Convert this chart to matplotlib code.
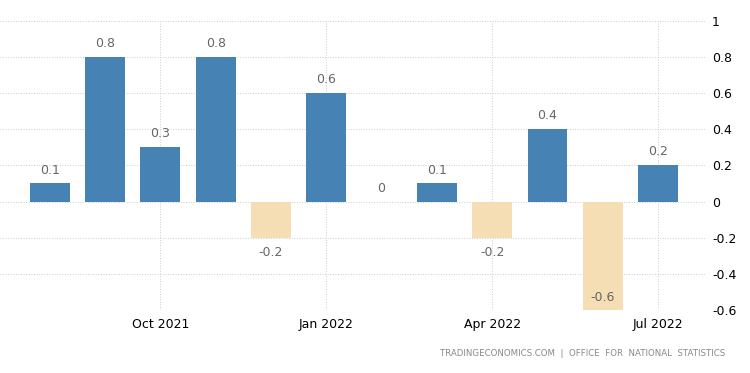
import matplotlib
matplotlib.use('Agg')
import matplotlib.pyplot as plt

# Données mensuelles (août 2021 -> juillet 2022)
months = ['Aug 2021', 'Sep 2021', 'Oct 2021', 'Nov 2021', 'Dec 2021', 'Jan 2022',
          'Feb 2022', 'Mar 2022', 'Apr 2022', 'May 2022', 'Jun 2022', 'Jul 2022']
values = [0.1, 0.8, 0.3, 0.8, -0.2, 0.6, 0, 0.1, -0.2, 0.4, -0.6, 0.2]
labels = ['0.1', '0.8', '0.3', '0.8', '-0.2', '0.6', '0', '0.1', '-0.2', '0.4', '-0.6', '0.2']
tick_months = ['Oct 2021', 'Jan 2022', 'Apr 2022', 'Jul 2022']
yticks = [-0.6, -0.4, -0.2, 0, 0.2, 0.4, 0.6, 0.8, 1]

plt.rcParams['font.family'] = ['DejaVu Sans']

fig = plt.figure(figsize=(7.5, 3.73), dpi=100)
ax = fig.add_axes([0.0, 0.169, 0.94, 0.775])

x = list(range(len(values)))
colors = ['#4682b4' if v >= 0 else '#f5deb3' for v in values]
ax.bar(x, values, width=0.72, color=colors, zorder=2)

# Étiquettes des barres
for i, v in enumerate(values):
    if v >= 0:
        ax.annotate(labels[i], (i, v), xytext=(0, 5), textcoords='offset points',
                    ha='center', va='bottom', fontsize=9, color='#666666')
    elif v <= -0.5:
        ax.annotate(labels[i], (i, v), xytext=(0, 4), textcoords='offset points',
                    ha='center', va='bottom', fontsize=9, color='#666666')
    else:
        ax.annotate(labels[i], (i, v), xytext=(0, -6), textcoords='offset points',
                    ha='center', va='top', fontsize=9, color='#666666')

ax.set_xlim(-0.9, 11.85)
ax.set_ylim(-0.6, 1)
ax.set_xticks([months.index(m) for m in tick_months])
ax.set_xticklabels(tick_months)
ax.set_yticks(yticks)
ax.set_yticklabels(['{:g}'.format(t) for t in yticks])
ax.yaxis.tick_right()
ax.tick_params(axis='both', length=0, labelsize=9, colors='black')
ax.tick_params(axis='y', pad=5)
ax.tick_params(axis='x', pad=6)

ax.grid(True, linestyle=':', color='#cccccc', linewidth=0.7, zorder=0)
for s in ax.spines.values():
    s.set_visible(False)

fig.text(0.967, 0.04, 'TRADINGECONOMICS.COM  |  OFFICE  FOR  NATIONAL  STATISTICS',
         ha='right', va='bottom', fontsize=6.2, color='#888888')

fig.savefig('out.png', dpi=100)
